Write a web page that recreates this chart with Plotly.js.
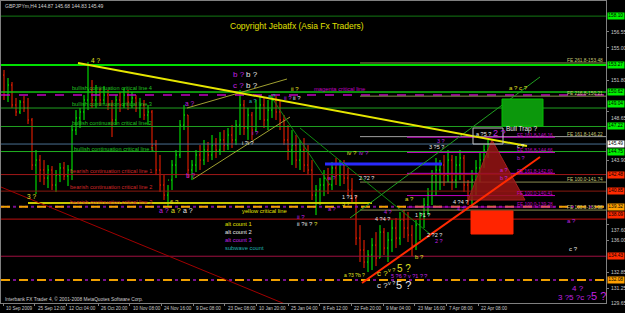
<!DOCTYPE html>
<html><head><meta charset="utf-8">
<script src="https://cdn.plot.ly/plotly-3.0.1.min.js"></script>
<style>html,body{margin:0;padding:0;background:#000;}#chart{width:625px;height:313px;}</style>
</head><body><div id="chart"></div>
<script>
// ---------- DATA (GBPJPYm, H4) ----------
const barOpen = [152.29,150.32,151.31,149.34,148.65,149.63,149.04,147.86,143.42,143.91,
142.93,142.14,142.93,141.45,142.43,143.13,142.34,142.93,146.87,148.06,
148.65,149.83,150.82,149.83,150.62,149.83,150.32,149.34,147.86,149.83,
149.34,150.32,149.63,150.03,149.04,149.34,148.35,148.65,145.39,142.93,
141.45,140.46,141.94,143.42,144.41,147.36,148.35,142.93,143.42,144.41,
143.91,144.90,144.41,145.39,144.90,145.89,145.39,146.38,145.89,147.36,
149.34,147.07,148.35,146.87,149.04,149.34,147.86,148.84,149.83,148.65,
147.86,145.89,144.90,145.39,143.91,144.90,143.42,142.93,140.46,140.96,
141.45,142.14,141.45,143.13,142.43,143.42,142.14,140.96,140.17,136.22,
135.04,133.86,134.55,135.53,134.25,136.81,135.24,136.03,137.21,136.22,
138.00,137.21,136.52,135.53,137.50,138.49,139.48,140.46,142.43,142.93,
143.42,142.43,143.91,141.94,143.42,144.11,141.45,139.97,141.94,143.13,
143.91,144.90];
const barHigh = [152.79,152.00,151.60,150.03,149.83,150.22,150.03,148.06,144.90,144.41,
143.91,143.42,143.32,142.93,143.62,143.72,143.42,147.36,148.84,149.04,
150.32,153.58,151.80,151.31,151.01,151.21,150.82,149.83,150.32,150.62,
151.01,150.82,150.62,150.32,150.03,149.83,149.34,148.84,145.89,144.41,
142.43,141.45,143.91,144.90,147.86,149.34,148.35,143.91,144.90,145.39,
145.89,145.69,146.38,146.08,146.67,146.87,147.07,147.36,147.86,150.82,
149.83,149.04,148.65,149.83,150.32,150.03,149.83,150.32,150.22,149.83,
148.35,147.36,146.87,146.38,145.89,146.08,145.39,143.91,141.45,142.14,
142.93,143.13,143.72,144.11,143.91,143.91,143.13,142.14,140.46,137.50,
136.03,135.04,136.22,136.81,137.50,137.21,136.81,138.00,138.20,138.79,
138.98,138.79,137.50,138.00,138.79,140.17,141.15,142.93,144.11,143.91,
144.41,144.90,144.41,144.31,144.90,144.41,141.94,142.93,143.91,144.70,
145.39,145.89];
const barLow = [149.83,149.63,149.04,148.25,148.45,148.65,147.46,142.93,140.56,141.74,
141.45,141.15,140.96,140.76,141.74,141.94,141.35,141.94,146.38,147.07,
147.86,148.84,149.04,149.04,149.24,149.44,148.84,146.18,147.36,148.65,
149.04,148.84,149.04,148.65,148.06,147.86,147.36,144.90,142.43,140.76,
139.97,139.28,140.96,142.14,144.11,146.87,142.14,141.94,142.73,142.93,
143.42,143.72,143.91,144.11,144.41,144.70,144.90,145.10,145.39,146.38,
146.38,145.89,145.89,146.67,147.86,147.07,146.87,148.06,147.86,146.87,
145.39,143.91,143.42,143.13,142.93,142.73,142.43,139.97,138.49,139.48,
140.36,140.56,140.96,141.45,141.35,141.55,140.46,139.77,135.53,133.86,
133.27,132.87,133.07,133.46,134.25,134.55,133.86,134.84,135.24,135.53,
136.22,135.83,134.45,135.04,136.03,137.21,138.49,139.48,140.46,140.96,
141.35,141.74,140.96,141.15,141.94,140.76,139.48,139.38,140.46,141.74,
143.13,144.11];
const barClose = [150.32,151.31,149.34,148.65,149.63,149.04,147.86,143.42,143.91,142.93,
142.14,142.93,141.45,142.43,143.13,142.34,142.93,146.87,148.06,148.65,
149.83,150.82,149.83,150.62,149.83,150.32,149.34,147.86,149.83,149.34,
150.32,149.63,150.03,149.04,149.34,148.35,148.65,145.39,142.93,141.45,
140.46,141.94,143.42,144.41,147.36,148.35,142.93,143.42,144.41,143.91,
144.90,144.41,145.39,144.90,145.89,145.39,146.38,145.89,147.36,149.34,
147.07,148.35,146.87,149.04,149.34,147.86,148.84,149.83,148.65,147.86,
145.89,144.90,145.39,143.91,144.90,143.42,142.93,140.46,140.96,141.45,
142.14,141.45,143.13,142.43,143.42,142.14,140.96,140.17,136.22,135.04,
133.86,134.55,135.53,134.25,136.81,135.24,136.03,137.21,136.22,138.00,
137.21,136.52,135.53,137.50,138.49,139.48,140.46,142.43,142.93,143.42,
142.43,143.91,141.94,143.42,144.11,141.45,139.97,141.94,143.13,143.91,
144.90,145.49];
// time index of each bar (evenly spaced periods)
const barX = barOpen.map((_, i) => 1 + 4 * i);

const xTickVals = [0,31.7,63.3,95,126.7,158.3,190,221.7,253.3,285,316.7,348.3,380,411.7,443.3,475];
const xTickText = ["10 Sep 2009","25 Sep 12:00","12 Oct 04:00","26 Oct 20:00","10 Nov 08:00","24 Nov 16:00","9 Dec 08:00","23 Dec 08:00","10 Jan 20:00","25 Jan 04:00","8 Feb 12:00","22 Feb 20:00","9 Mar 04:00","23 Mar 16:00","7 Apr 08:00","22 Apr 08:00"];
const yTickVals = [131.25,132.85,136.00,137.60,143.90,148.65,151.80,155.00,156.55];
const yBottomTick = 129.65;

const greenLevels = [158.10,153.27,150.62,149.04,147.22,144.75];
const redLevels = [142.48,140.85,138.09,134.43];
const orangeLevels = [139.32,132.08];
const magentaCritical = 150.32;
const currentPrice = 145.49;
const yellowCritical = 139.67;
const blueLevel = 143.52;
const feOlivePrices = [153.48,150.21,146.22,141.74,138.98];
const feOliveLabels = ["FE 261.8-153.48","FE 216.8-150.21","FE 161.8-146.22","FE 100.0-141.74","FE 100.0-138.98"];
const feMagentaPrices = [146.16,144.66,142.60,140.41,139.28];
const feMagentaLabels = ["FE 161.8-146.16","FE 316.8-144.66","FE 161.8-142.60","FE 100.0-140.41","FE 100.0-139.28"];
const bullLabels = ["bullish continuation critical line 4","bullish continuation critical line 3","bullish continuation critical line 2","bullish continuation critical line 1"];
const bearLabels = ["bearish continuation critical line 1","bearish continuation critical line 2","bearish continuation critical line 3"];

// trendlines: [x0, price0, x1, price1]
const trendYellow = [75,153.48,524,145.29];
const channelUpper = [184,149.04,284,151.90];
const channelLower = [190,142.04,287,148.15];
const greenDownA = [267,150.32,327,141.45];
const greenDownB = [297,147.07,427,136.62];
const greenUp = [347,138.20,537,152.10];
const redUp = [359,131.79,537,144.21];
const darkRedDown = [-2,141.25,282,129.72];
const greenBox = [499,149.93,540,147.27];
const redBox = [468,138.89,510,136.62];
const triangleX = [489,465,522];
const triangleY = [145.89,139.97,139.97];
const bullTrapBox = [470,147.07,500,145.49];

// ---------- BUILD ----------
const F = 'Liberation Sans, Arial, sans-serif';
const shapes = [];
function hl(p, x0, x1, color, width, dash, xref) {
  shapes.push({type:'line', xref: xref || 'x', yref:'y', x0, x1, y0:p, y1:p, line:{color, width, dash: dash || 'solid'}});
}
function seg(a, color, width, dash) {
  shapes.push({type:'line', xref:'x', yref:'y', x0:a[0], y0:a[1], x1:a[2], y1:a[3], line:{color, width, dash: dash || 'solid'}});
}
hl(greenLevels[0], 0, 1, '#127a12', 1, 'solid', 'paper');
hl(greenLevels[1], 0, 1, '#00e000', 2, 'solid', 'paper');
hl(greenLevels[2], 0, 1, '#10c010', 1.5, 'solid', 'paper');
hl(greenLevels[3], 0, 1, '#20a020', 1, 'solid', 'paper');
hl(greenLevels[4], 0, 1, '#20a020', 1, 'solid', 'paper');
hl(greenLevels[5], 0, 1, '#20b020', 1, 'solid', 'paper');
hl(magentaCritical, 0, 1, '#c000c0', 1.5, 'dash', 'paper');
hl(currentPrice, 0, 1, '#4a7090', 1, 'solid', 'paper');
hl(redLevels[0], 0, 1, '#a01818', 1, 'solid', 'paper');
hl(redLevels[1], 0, 1, '#8a1a10', 1, 'solid', 'paper');
hl(redLevels[2], 0, 1, '#c01010', 1, 'solid', 'paper');
hl(redLevels[3], 0, 1, '#a01040', 1, 'solid', 'paper');
orangeLevels.forEach(p => { hl(p, 0, 1, '#7a1090', 2, 'dot', 'paper'); hl(p, 0, 1, '#f0a000', 2, 'dash', 'paper'); });
feOlivePrices.forEach((p, i) => hl(p, 357, 603, i === 2 ? '#a0a0a0' : '#8c8c50', 1));
feMagentaPrices.forEach(p => hl(p, 404, 552, '#c000c0', 1));
hl(yellowCritical, 25, 369, '#c8c800', 2);
hl(blueLevel, 322, 439, '#2a2aff', 3);
seg(darkRedDown, '#a00000', 1);
seg(channelUpper, '#a0a030', 1);
seg(channelLower, '#a0a030', 1);
seg(greenDownA, '#108a10', 1);
seg(greenDownB, '#108a10', 1);
seg(greenUp, '#20a020', 1);
shapes.push({type:'rect', xref:'x', yref:'y', x0:greenBox[0], y0:greenBox[1], x1:greenBox[2], y1:greenBox[3], fillcolor:'#0c980c', line:{color:'#00c000', width:1}});
shapes.push({type:'rect', xref:'x', yref:'y', x0:redBox[0], y0:redBox[1], x1:redBox[2], y1:redBox[3], fillcolor:'#ff2400', line:{color:'#ff2400', width:1}});
shapes.push({type:'path', xref:'x', yref:'y', path:`M ${triangleX[0]} ${triangleY[0]} L ${triangleX[1]} ${triangleY[1]} L ${triangleX[2]} ${triangleY[2]} Z`, fillcolor:'rgba(150,20,20,0.85)', line:{color:'#a02020', width:1}});
seg(redUp, '#ff2a00', 2);
seg(trendYellow, '#e6e600', 2);
shapes.push({type:'rect', xref:'x', yref:'y', x0:bullTrapBox[0], y0:bullTrapBox[1], x1:bullTrapBox[2], y1:bullTrapBox[3], line:{color:'#c0c0c0', width:1}});

// ---------- TEXT ----------
const ann = [];
function t(text, x, y, color, size, xanchor, xref, yref, yanchor) {
  ann.push({text, x, y, xref: xref || 'x', yref: yref || 'y', xanchor: xanchor || 'left', yanchor: yanchor || 'middle', showarrow:false, font:{family:F, color, size}});
}
const Y = '#e0e020', W = '#e8e8e8', M = '#c020e0', TL = '#20b0b0';
t('GBPJPYm,H4 144.87 145.68 144.83 145.49', 0.003, 0.985, '#d0d0d0', 5, 'left', 'paper', 'paper');
t('Copyright Jebatfx (Asia Fx Traders)', 0.49, 0.918, '#e0e000', 8.5, 'center', 'paper', 'paper');
t('Interbank FX Trader 4, \u00a9 2001-2008 MetaQuotes Software Corp.', 0.003, 0.014, '#d0d0d0', 4.8, 'left', 'paper', 'paper');
[151.01, 149.44, 147.56, 145.00].forEach((p, i) => t(bullLabels[i], i === 3 ? 69 : 67, p, '#20c020', 5.6));
[142.83, 141.25, 139.77].forEach((p, i) => t(bearLabels[i], 65, p, '#d02828', 5.6));
t('magenta critical line', 309, 150.91, '#c000c0', 5.8);
t('yellow critical line', 237, 138.89, '#e0e000', 5.8);
t('alt count 1', 220, 137.60, '#e0e000', 5.8);
t('alt count 2', 220, 136.82, W, 5.8);
t('alt count 3', 220, 136.03, M, 5.8);
t('subwave count', 220, 135.24, TL, 5.8);
feOlivePrices.forEach((p, i) => t(feOliveLabels[i], 602, p + 0.22, '#c8c878', 4.8, 'right'));
feMagentaPrices.forEach((p, i) => t(feMagentaLabels[i], 552, p + (i === 0 ? 0.16 : 0.22), '#c000c0', 4.8, 'right'));
t('4 ?', 86, 153.68, Y, 6.5);
t('3 ?', 22, 140.36, Y, 6.5);
t('b ?', 228, 152.39, M, 8); t('b ?', 241, 152.39, W, 8);
t('c ?', 228, 151.31, M, 8); t('b ?', 241, 151.31, W, 8);
t('ii ?', 286, 150.91, Y, 6);
t('ii ?', 279, 150.03, M, 6); t('ii ?', 288, 150.03, W, 6);
t('a ?', 180, 149.44, M, 6.5);
t('b ?', 181, 142.34, M, 6.5);
t('a ?', 244, 149.73, TL, 5.5); t('a ?', 263, 150.22, TL, 5.5);
t('i ?', 247, 146.58, M, 6); t('i ?i ?', 237, 145.59, W, 5.5);
t('6 ?', 165, 139.77, Y, 6);
t('a ?', 154, 138.89, M, 7); t('a ?', 166, 138.89, Y, 7); t('a ?', 178, 138.89, W, 7);
t('ii ?', 292, 138.30, M, 6); t('ii ?ii ?', 292, 137.60, W, 6);
t('iv ?', 342, 144.60, Y, 6); t('iv ?', 354, 144.60, M, 6);
t('a ?', 323, 142.14, M, 5.5); t('2 ?2 ?', 354, 142.14, W, 5.5);
t('1 ?1 ?', 337, 140.27, W, 5.5);
t('3 ?', 337, 139.58, Y, 5.5); t('a ?', 323, 139.08, M, 5.5);
t('?', 309, 137.60, Y, 6);
t('a ?', 400, 140.07, Y, 6);
t('4 ?', 379, 138.79, M, 5.5); t('4 ?4 ?', 370, 138.10, W, 5.5);
t('1 ?1 ?', 410, 138.49, W, 5.5);
t('2 ?2 ?', 422, 136.52, W, 5.5); t('2 ?', 430, 135.93, M, 5.5);
t('b ?', 410, 134.35, Y, 6);
t('a ?3 ?b ?', 339, 132.57, Y, 5);
t('c ?', 372, 132.77, Y, 8); t('v ?', 383, 133.07, Y, 5.5); t('5 ?', 392, 133.27, Y, 10);
t('5 ?6 ?', 386, 132.47, M, 5.5); t('v ?1 ?', 403, 132.47, M, 5.5); t('?', 419, 132.47, M, 6);
t('c ?', 372, 131.59, W, 8); t('v ?', 383, 131.79, W, 5.5); t('5 ?', 391, 131.59, W, 11);
t('4 ?', 567, 131.29, M, 8);
t('3 ?5 ?c ?', 553, 130.41, M, 8); t('5 ?', 586, 130.51, M, 11);
t('c ?', 564, 135.14, W, 6);
t('a ?', 562, 137.90, M, 6);
t('4 ?4 ?', 448, 139.77, W, 5.5); t('4 ?', 452, 139.08, M, 5.5);
t('3 ?', 432, 145.79, M, 5.5); t('3 ?5 ?', 424, 145.20, W, 5.5);
t('c ?', 512, 145.29, W, 5.5); t('b ?', 512, 144.11, M, 5.5);
t('a ?', 495, 142.93, M, 5.5); t('b ?', 495, 142.14, M, 5.5);
t('a ? c ?', 504, 151.01, Y, 6);
t('a ?5 ?', 471, 146.48, W, 5.5); t('2 ?', 488, 146.58, M, 9);
t('Bull Trap ?', 501, 147.02, W, 6.5);
// x-axis labels (left-aligned after each tick, MT4 style)
xTickVals.forEach((v, i) => ann.push({text:xTickText[i], x:v, y:0, xref:'x', yref:'paper', xanchor:'left', yanchor:'top', xshift:1, yshift:-1, showarrow:false, font:{family:F, color:'#c8c8c8', size:4.6}}));
// y-axis labels (right side, MT4 style)
yTickVals.forEach(v => ann.push({text:v.toFixed(2), x:1, y:v, xref:'paper', yref:'y', xanchor:'left', yanchor:(v === 148.65 || v === 137.60) ? 'top' : 'middle', xshift:3, yshift:(v === 148.65 || v === 137.60) ? -1 : 0, showarrow:false, font:{family:F, color:'#c8c8c8', size:5}}));
ann.push({text:yBottomTick.toFixed(2), x:1, y:0, xref:'paper', yref:'paper', xanchor:'left', yanchor:'middle', xshift:3, showarrow:false, font:{family:F, color:'#c8c8c8', size:5}});
function box(p, bg, ya) {
  ann.push({text: p.toFixed(2), x:1, xshift:1, y:p, xref:'paper', yref:'y', xanchor:'left', yanchor: ya || 'middle', showarrow:false, bgcolor:bg, borderpad:0.3, font:{family:F, color:'#000', size:4.8}});
}
greenLevels.forEach(p => box(p, '#00f000', p === 149.04 ? 'bottom' : 'middle'));
box(currentPrice, '#ffffff');
redLevels.forEach(p => box(p, '#ff2a00', p === 138.09 ? 'bottom' : 'middle'));
orangeLevels.forEach(p => box(p, '#ffa000'));

const trace = {
  type:'ohlc', x:barX, open:barOpen, high:barHigh, low:barLow, close:barClose,
  increasing:{line:{color:'#00ff00', width:1}},
  decreasing:{line:{color:'#ff2000', width:1}},
  tickwidth:0.25, hoverinfo:'skip'
};

const layout = {
  width:625, height:313,
  margin:{l:1, r:19, t:1, b:10, pad:0},
  paper_bgcolor:'#000', plot_bgcolor:'#000', showlegend:false,
  xaxis:{range:[-2,603], showgrid:false, zeroline:false, rangeslider:{visible:false},
    tickmode:'array', tickvals:xTickVals, ticks:'outside', ticklen:2, tickcolor:'#808080', showticklabels:false,
    showline:true, linecolor:'#808080', linewidth:1, mirror:true, fixedrange:true},
  yaxis:{range:[129.82,159.59], side:'right', showgrid:false, zeroline:false,
    tickmode:'array', tickvals:yTickVals, ticks:'outside', ticklen:2, tickcolor:'#808080', showticklabels:false,
    showline:true, linecolor:'#808080', linewidth:1, mirror:true, fixedrange:true},
  shapes, annotations: ann
};
Plotly.newPlot('chart', [trace], layout, {staticPlot:true, displayModeBar:false});
</script></body></html>
